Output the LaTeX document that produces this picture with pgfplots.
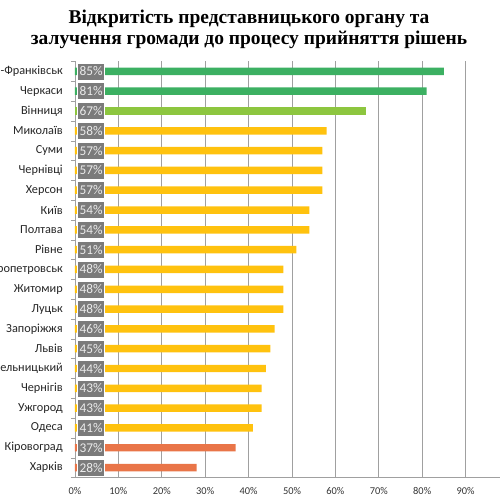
\documentclass[border=0pt]{standalone}
\usepackage{pgfplots}
\pgfplotsset{compat=1.18}
\usepackage{fontspec}
\setmainfont{Carlito}
\newfontfamily\titlefont{Liberation Serif}
\definecolor{cgreen}{HTML}{3CB062}
\definecolor{clgreen}{HTML}{8DC63F}
\definecolor{cyellow}{HTML}{FFC20E}
\definecolor{corange}{HTML}{E97548}
\definecolor{cbox}{HTML}{7B7B7B}
\definecolor{cgrid}{HTML}{A0A0A0}
\begin{document}
\begin{tikzpicture}
\begin{axis}[
  at={(56.25pt,16.9pt)}, anchor=south west,
  scale only axis, width=325.5pt, height=312pt,
  xmin=0, xmax=100, ymin=-0.5, ymax=20.5,
  axis lines=left, axis line style={draw=cgrid,-},
  xmajorgrids, grid style={cgrid, line width=0.6pt},
  xtick={0,10,...,90},
  xticklabels={0\%,10\%,20\%,30\%,40\%,50\%,60\%,70\%,80\%,90\%},
  ytick={0,...,20},
  yticklabels={Харків,Кіровоград,Одеса,Ужгород,Чернігів,Хмельницький,Львів,Запоріжжя,Луцьк,Житомир,Дніпропетровськ,Рівне,Полтава,Київ,Херсон,Чернівці,Суми,Миколаїв,Вінниця,Черкаси,Івано-Франківськ},
  minor ytick={-0.5,0.5,...,20.5},
  major tick length=0pt, minor tick length=3pt, tick align=outside,
  minor tick style={cgrid},
  xticklabel style={font=\fontsize{7.8}{9}\selectfont, text=black!80, inner sep=0pt, anchor=north, yshift=-7pt},
  yticklabel style={font=\fontsize{9.2}{11}\selectfont, text=black!85, inner sep=0pt, anchor=east, xshift=-9pt},
  clip=false,
]
\addplot[xbar, bar shift=0pt, bar width=5.6pt, fill=cgreen, draw=none] coordinates {(85,20) (81,19)};
\addplot[xbar, bar shift=0pt, bar width=5.6pt, fill=clgreen, draw=none] coordinates {(67,18)};
\addplot[xbar, bar shift=0pt, bar width=5.6pt, fill=cyellow, draw=none] coordinates {(58,17) (57,16) (57,15) (57,14) (54,13) (54,12) (51,11) (48,10) (48,9) (48,8) (46,7) (45,6) (44,5) (43,4) (43,3) (41,2)};
\addplot[xbar, bar shift=0pt, bar width=5.6pt, fill=corange, draw=none] coordinates {(37,1) (28,0)};
\addplot[draw=none, mark=none, point meta=explicit symbolic, nodes near coords,
  every node near coord/.style={anchor=center, fill=cbox, draw=white, line width=0.4pt, text=white!92!black, inner sep=0pt, minimum width=20.25pt, minimum height=12.75pt, font=\fontsize{10}{12}\selectfont}]
  coordinates {(3.7,20) [85\%] (3.7,19) [81\%] (3.7,18) [67\%] (3.7,17) [58\%] (3.7,16) [57\%] (3.7,15) [57\%] (3.7,14) [57\%] (3.7,13) [54\%] (3.7,12) [54\%] (3.7,11) [51\%] (3.7,10) [48\%] (3.7,9) [48\%] (3.7,8) [48\%] (3.7,7) [46\%] (3.7,6) [45\%] (3.7,5) [44\%] (3.7,4) [43\%] (3.7,3) [43\%] (3.7,2) [41\%] (3.7,1) [37\%] (3.7,0) [28\%]};
\end{axis}
\node[anchor=base, font=\titlefont\bfseries\fontsize{14.6}{18}\selectfont] at (186.75pt,357pt) {Відкритість представницького органу та};
\node[anchor=base, font=\titlefont\bfseries\fontsize{14.6}{18}\selectfont] at (186.75pt,341.25pt) {залучення громади до процесу прийняття рішень};
\pgfresetboundingbox
\useasboundingbox (0,0) rectangle (375pt,375pt);
\end{tikzpicture}
\end{document}
